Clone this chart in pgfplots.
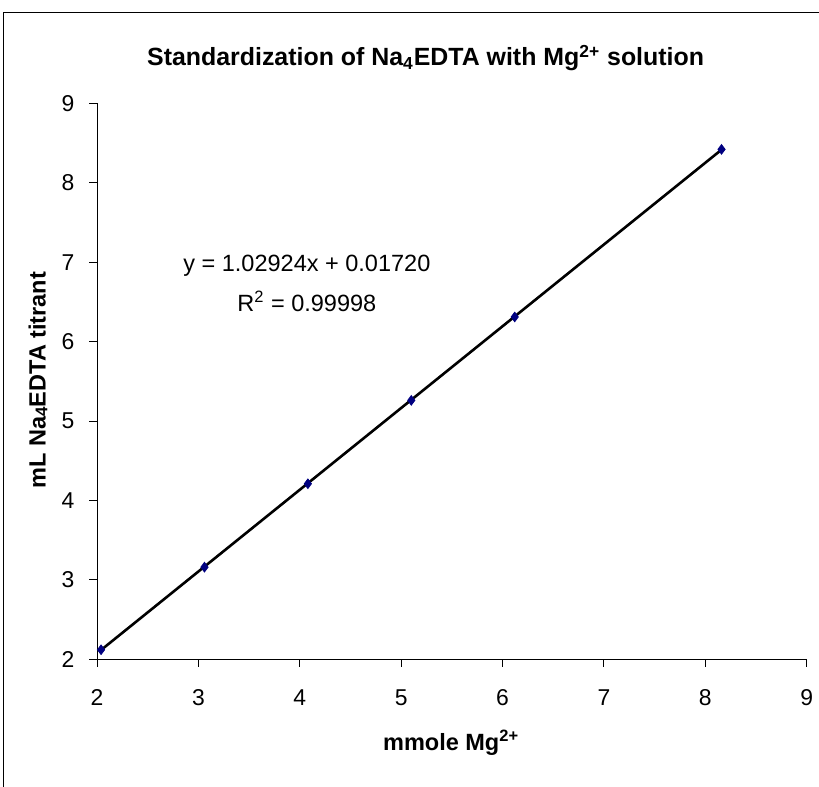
\documentclass[border=0pt]{standalone}
\usepackage{pgfplots}
\pgfplotsset{compat=1.18}
\usepackage{fontspec}
\setmainfont{Liberation Sans}
\definecolor{navy}{RGB}{0,0,128}
\begin{document}
\begin{tikzpicture}
\path[use as bounding box] (0,0) rectangle (409.5bp,393.5bp);
\draw[line width=0.8bp] (1.8bp,0) -- (1.8bp,387.3bp) -- (409.5bp,387.3bp);
\begin{axis}[
  at={(48.5bp,63.85bp)}, anchor=south west, scale only axis,
  width=354.85bp, height=278bp,
  xmin=2, xmax=9, ymin=2, ymax=9,
  axis x line*=bottom, axis y line*=left,
  xtick={2,...,9}, ytick={2,...,9},
  tick align=outside, major tick length=3.8bp,
  tick style={black, line width=0.5bp},
  axis line style={black, line width=0.5bp},
  ticklabel style={font=\fontsize{11.5}{13}\selectfont},
  xticklabel style={yshift=-8bp},
  yticklabel style={xshift=-4bp},
  /pgf/number format/assume math mode=true,
  xlabel={\textbf{mmole Mg\textsuperscript{2+}}},
  ylabel={\textbf{mL Na\raisebox{-0.15ex}{\fontsize{8.5}{9}\selectfont 4}EDTA titrant}},
  label style={font=\fontsize{11.8}{13}\selectfont},
  xlabel style={at={(axis description cs:0.499,-0.1505)}, anchor=center},
  ylabel style={at={(axis description cs:-0.0831,0.502)}, anchor=center},
  clip=false,
]
\addplot[navy, only marks, mark=diamond*, mark size=2.4bp] coordinates {
  (2.04,2.12) (3.06,3.16) (4.08,4.21) (5.10,5.26) (6.12,6.31) (8.16,8.42)
};
\addplot[black, line width=1.3bp] coordinates {(2.04,2.117) (8.16,8.416)};
\node[font=\fontsize{11.8}{13}\selectfont] at (axis cs:4.07,6.95) {y = 1.02924x + 0.01720};
\node[font=\fontsize{11.8}{13}\selectfont] at (axis cs:4.07,6.51) {R\textsuperscript{2} = 0.99998};
\node[font=\bfseries\fontsize{12.5}{14}\selectfont] at (axis description cs:0.463,1.0815) {Standardization of Na$_{\mathbf{4}}$EDTA with Mg\textsuperscript{2+} solution};
\end{axis}
\end{tikzpicture}
\end{document}
